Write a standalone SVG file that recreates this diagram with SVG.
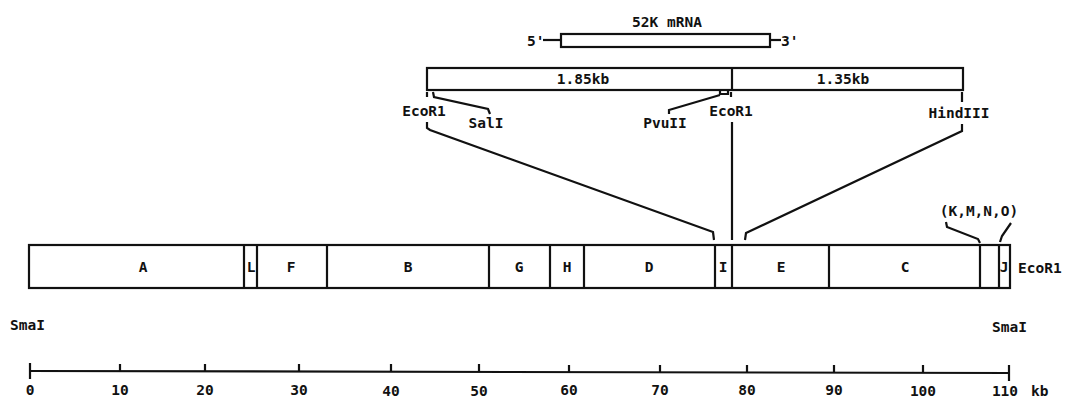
<svg xmlns="http://www.w3.org/2000/svg" width="1068" height="397" viewBox="0 0 1068 397">
<style>
text{font-family:"DejaVu Sans Mono","Liberation Mono",monospace;font-weight:bold;font-size:14.5px;fill:#111}
.m{text-anchor:middle}
.box{fill:#fff;stroke:#111;stroke-width:2.2}
.ln{fill:none;stroke:#111;stroke-width:2.2}
</style>
<rect width="1068" height="397" fill="#fff"/>
<g id="mrna">
<text class="m" x="667" y="27">52K mRNA</text>
<text x="527" y="46">5'</text>
<line class="ln" x1="543" y1="40" x2="561" y2="40"/>
<rect class="box" x="561" y="34" width="209" height="13"/>
<line class="ln" x1="770" y1="40" x2="781" y2="40"/>
<text x="781" y="46">3'</text>
</g>
<g id="clone">
<rect class="box" x="427" y="68" width="536" height="22"/>
<line class="ln" x1="732" y1="68" x2="732" y2="90"/>
<text class="m" x="583" y="84">1.85kb</text>
<text class="m" x="843" y="84">1.35kb</text>
</g>
<g id="sites">
<text class="m" x="424" y="116">EcoR1</text>
<text class="m" x="486" y="128">SalI</text>
<text class="m" x="665" y="128">PvuII</text>
<text class="m" x="731" y="116">EcoR1</text>
<text class="m" x="959" y="118">HindIII</text>
</g>
<g id="fragments">
<rect class="box" x="29" y="245" width="981" height="43"/>
<path class="ln" d="M244,245V288M257,245V288M327,245V288M489,245V288M550,245V288M584,245V288M715,245V288M732,245V288M829,245V288M980,245V288M999,245V288"/>
<text class="m" x="143" y="272">A</text>
<text class="m" x="251" y="272">L</text>
<text class="m" x="291" y="272">F</text>
<text class="m" x="408" y="272">B</text>
<text class="m" x="519" y="272">G</text>
<text class="m" x="567" y="272">H</text>
<text class="m" x="649" y="272">D</text>
<text class="m" x="723" y="272">I</text>
<text class="m" x="781" y="272">E</text>
<text class="m" x="905" y="272">C</text>
<text class="m" x="1004" y="272">J</text>
<text x="1018" y="273">EcoR1</text>
<text class="m" x="979" y="216">(K,M,N,O)</text>
</g>
<g id="scale">
<line class="ln" x1="30" y1="371" x2="1009" y2="373"/>
<path class="ln" d="M30,363V379M120,364V371M205,364V371M299,364V372M391,364V372M479,364V372M569,365V372M660,365V372M747,365V373M834,365V373M923,365V373M1009,365V381"/>
<text class="m" x="30" y="395">0</text>
<text class="m" x="120" y="395">10</text>
<text class="m" x="205" y="395">20</text>
<text class="m" x="299" y="395">30</text>
<text class="m" x="391" y="396">40</text>
<text class="m" x="479" y="396">50</text>
<text class="m" x="569" y="395">60</text>
<text class="m" x="660" y="395">70</text>
<text class="m" x="747" y="395">80</text>
<text class="m" x="834" y="395">90</text>
<text class="m" x="923" y="396">100</text>
<text class="m" x="1005" y="396">110</text>
<text x="1031" y="396">kb</text>
<text x="10" y="330">SmaI</text>
<text x="992" y="332">SmaI</text>
</g>
<g id="connectors">
<path class="ln" d="M427,92V97"/>
<path class="ln" d="M433,92L434,97L488,109L490,114"/>
<path class="ln" d="M669,114V110L720,95M720,90V94H728V90"/>
<path class="ln" d="M731,92V97"/>
<path class="ln" d="M962,92V102"/>
<path class="ln" d="M427,122V128L430,130L713,232L714,240"/>
<path class="ln" d="M732,122V240"/>
<path class="ln" d="M962,124V131L746,233L745,240"/>
<path class="ln" d="M946,222L947,227L978,239L980,243"/>
<path class="ln" d="M1011,223L1002,236L1000,242"/>
</g>
</svg>
